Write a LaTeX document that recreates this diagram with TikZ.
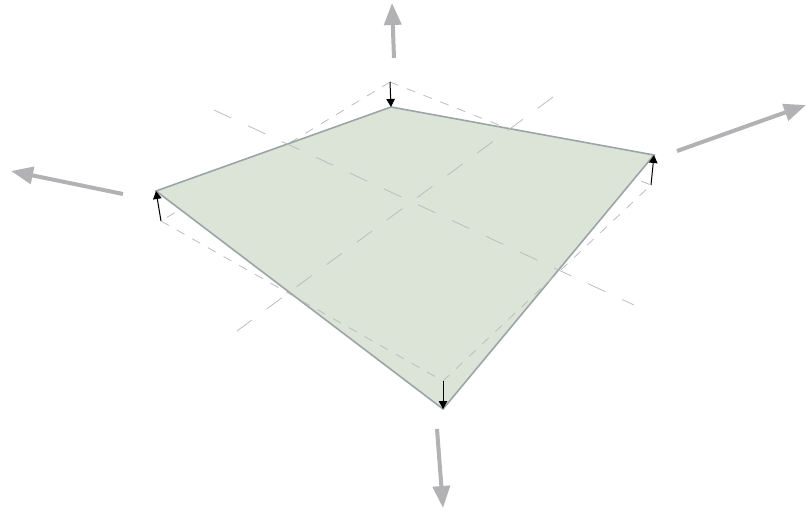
\documentclass[tikz,border=0pt]{standalone}
\usetikzlibrary{arrows.meta}
\definecolor{plate}{HTML}{DBE4D7}
\definecolor{plateedge}{HTML}{9BA5A8}
\definecolor{dirarrow}{HTML}{B2B2B4}
\definecolor{dashgray}{HTML}{BDBDBD}
\tikzset{
  platestyle/.style={fill=plate,draw=plateedge,line width=1.6pt,line join=miter},
  shortdash/.style={draw=dashgray,line width=0.8pt,dash pattern=on 9pt off 9pt},
  longdash/.style={draw=dashgray,line width=0.8pt,dash pattern=on 19pt off 18.5pt},
  disparrow/.style={draw=black,line width=1pt,-{Triangle[length=8pt,width=8.5pt]}},
  dirarrowstyle/.style={draw=dirarrow,line width=4pt,-{Triangle[length=22pt,width=17pt]}}
}
\begin{document}
\begin{tikzpicture}[x=1pt,y=-1pt]
\useasboundingbox (0,0) rectangle (806,511);
% plate corners
\coordinate (pt) at (391,107);
\coordinate (pr) at (654,155);
\coordinate (pb) at (443,409);
\coordinate (pl) at (156,191);
% reference outline corners
\coordinate (rt) at (390,82);
\coordinate (rr) at (651,185);
\coordinate (rb) at (443,381);
\coordinate (rl) at (161,221);
% centre lines ends
\coordinate (a1) at (214,110);
\coordinate (a2) at (634,305);
\coordinate (b1) at (553,97);
\coordinate (b2) at (237,331);
% direction arrows ends
\coordinate (us) at (394,58);
\coordinate (ue) at (392,3);
\coordinate (rs) at (677,151);
\coordinate (re) at (806,105);
\coordinate (ds) at (437,429);
\coordinate (de) at (443,508);
\coordinate (ls) at (123,194);
\coordinate (le) at (11,171);
% back edges
\draw[shortdash] (rt) -- (rl);
\draw[shortdash] (rt) -- (rr);
% plate
\draw[platestyle] (pt) -- (pr) -- (pb) -- (pl) -- cycle;
% front edges
\draw[shortdash] (rl) -- (rb);
\draw[shortdash] (rb) -- (rr);
% centre lines
\draw[longdash] (a1) -- (a2);
\draw[longdash] (b1) -- (b2);
% displacement arrows
\draw[disparrow] (rt) -- (pt);
\draw[disparrow] (rr) -- (pr);
\draw[disparrow] (rb) -- (pb);
\draw[disparrow] (rl) -- (pl);
% direction arrows
\draw[dirarrowstyle] (us) -- (ue);
\draw[dirarrowstyle] (rs) -- (re);
\draw[dirarrowstyle] (ds) -- (de);
\draw[dirarrowstyle] (ls) -- (le);
\end{tikzpicture}
\end{document}
